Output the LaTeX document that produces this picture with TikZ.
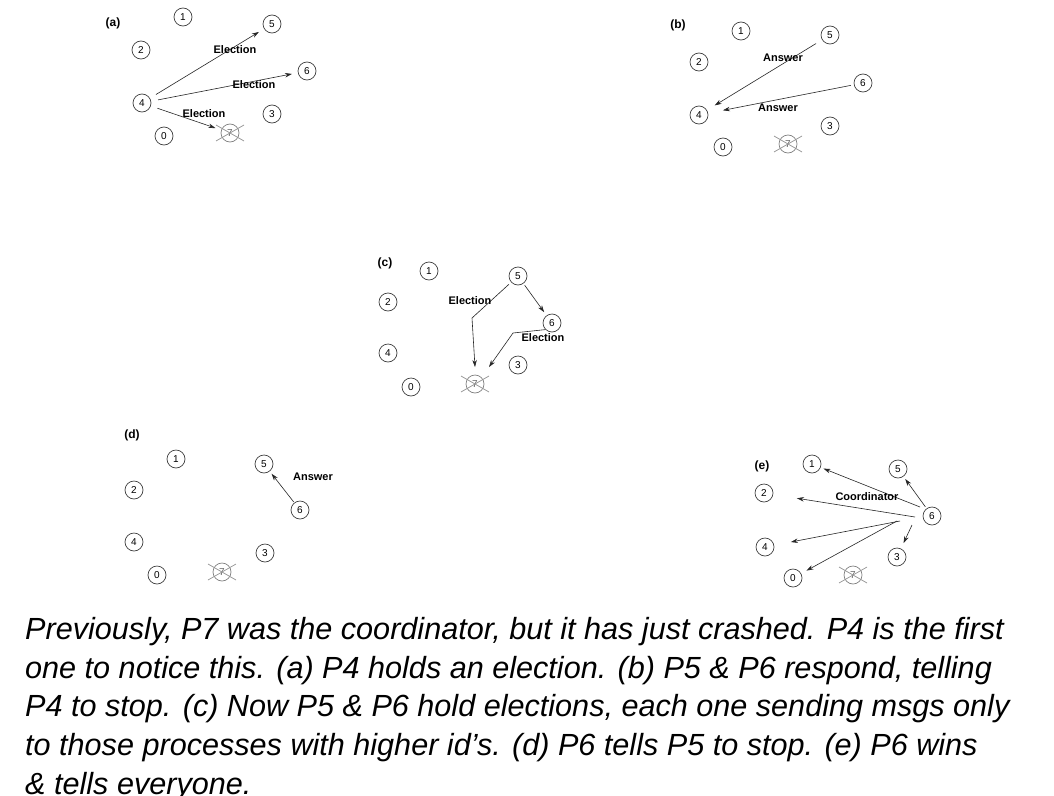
\documentclass[tikz,border=0pt]{standalone}
\usepackage{fontspec}
\setmainfont{Liberation Sans}
\usetikzlibrary{arrows.meta}
\newcommand\xoutnode[1]{\draw[gray!85,line width=0.7pt] ([shift={(-14,-8)}]#1.center) -- ([shift={(14,8)}]#1.center) ([shift={(-14,8)}]#1.center) -- ([shift={(14,-8)}]#1.center);}
\begin{document}
\begin{tikzpicture}[x=1pt,y=-1pt,
 proc/.style={circle,draw=black!75,line width=0.7pt,minimum size=18pt,inner sep=0pt,font=\fontsize{10}{10}\selectfont},
 dead/.style={proc,draw=gray,text=black!60},
 lbl/.style={font=\bfseries\fontsize{11}{11}\selectfont,inner sep=0pt},
 msg/.style={draw=black!85,line width=0.6pt,-{Stealth[length=7pt,width=4.5pt]}},
 panel/.style={font=\bfseries\fontsize{12}{12}\selectfont,inner sep=0pt}]
\useasboundingbox (0,0) rectangle (1054,795);
\fill[white] (0,0) rectangle (1054,795);
% ---------- (a)
\node[panel] (pa) at (113,23) {(a)};
\node[proc] (a1) at (183,17) {1};
\node[proc] (a5) at (272,24) {5};
\node[proc] (a2) at (141,50) {2};
\node[proc] (a6) at (307,71) {6};
\node[proc] (a4) at (142,103) {4};
\node[proc] (a3) at (272,114) {3};
\node[proc] (a0) at (164,136) {0};
\node[dead] (a7) at (230,133) {7};
\xoutnode{a7}
\draw[msg,shorten <=7pt,shorten >=6pt] (a4) -- (a5);
\draw[msg,shorten <=7pt,shorten >=6pt] (a4) -- (a6);
\draw[msg,shorten <=7pt,shorten >=6pt] (a4) -- (a7);
\node[lbl] (la1) at (235,50) {Election};
\node[lbl] (la2) at (254,85) {Election};
\node[lbl] (la3) at (204,114) {Election};
% ---------- (b)
\node[panel] (pb) at (678,25) {(b)};
\node[proc] (b1) at (741,31) {1};
\node[proc] (b5) at (830,35) {5};
\node[proc] (b2) at (699,62) {2};
\node[proc] (b6) at (863,83) {6};
\node[proc] (b4) at (699,115) {4};
\node[proc] (b3) at (830,126) {3};
\node[proc] (b0) at (723,147) {0};
\node[dead] (b7) at (788,144) {7};
\xoutnode{b7}
\draw[msg,shorten <=7pt,shorten >=9pt] (b5) -- (b4);
\draw[msg,shorten <=3pt,shorten >=15pt] (b6) -- (b4);
\node[lbl] (lb1) at (783,58) {Answer};
\node[lbl] (lb2) at (778,108) {Answer};
% ---------- (c)
\node[panel] (pc) at (385,263) {(c)};
\node[proc] (c1) at (429,271) {1};
\node[proc] (c5) at (518,276) {5};
\node[proc] (c2) at (388,302) {2};
\node[proc] (c6) at (552,323) {6};
\node[proc] (c4) at (388,353) {4};
\node[proc] (c3) at (518,365) {3};
\node[proc] (c0) at (411,387) {0};
\node[dead] (c7) at (475,384) {7};
\xoutnode{c7}
\coordinate (cb1) at (472,318);
\coordinate (cb2) at (513,333);
\draw[msg,shorten <=3pt] (c5) -- (cb1) -- ([shift={(0,-17)}]c7.center);
\draw[msg] (c6.south west) -- (cb2) -- ([shift={(14,-17)}]c7.center);
\draw[msg,shorten <=2pt,shorten >=4pt] (c5) -- (c6);
\node[lbl] (lc1) at (470,301) {Election};
\node[lbl] (lc2) at (543,338) {Election};
% ---------- (d)
\node[panel] (pd) at (132,435) {(d)};
\node[proc] (d1) at (176,459) {1};
\node[proc] (d5) at (264,464) {5};
\node[proc] (d2) at (134,490) {2};
\node[proc] (d6) at (300,510) {6};
\node[proc] (d4) at (134,542) {4};
\node[proc] (d3) at (265,553) {3};
\node[proc] (d0) at (157,575) {0};
\node[dead] (d7) at (222,572) {7};
\xoutnode{d7}
\draw[msg,shorten <=1pt,shorten >=3pt] (d6) -- (d5);
\node[lbl] (ld1) at (313,477) {Answer};
% ---------- (e)
\node[panel] (pe) at (762,466) {(e)};
\node[proc] (e1) at (812,464) {1};
\node[proc] (e5) at (898,469) {5};
\node[proc] (e2) at (764,493) {2};
\node[proc] (e6) at (932,516) {6};
\node[proc] (e4) at (765,547) {4};
\node[proc] (e3) at (897,557) {3};
\node[proc] (e0) at (793,578) {0};
\node[dead] (e7) at (853,575) {7};
\xoutnode{e7}
\coordinate (es1) at (920,507);
\coordinate (es2) at (915,517);
\coordinate (es3) at (900,521);
\coordinate (es4) at (897,521);
\coordinate (es5) at (912,525);
\draw[msg,shorten <=2pt,shorten >=3pt] (e6) -- (e5);
\draw[msg,shorten >=3pt] (es1) -- (e1);
\draw[msg,shorten >=24pt] (es2) -- (e2);
\draw[msg,shorten >=17pt] (es3) -- (e4);
\draw[msg,shorten >=6pt] (es4) -- (e0);
\draw[msg,shorten >=6pt] (es5) -- (e3);
\node[lbl] (le1) at (867,497) {Coordinator};
% ---------- caption
\node[anchor=north west,align=left,inner sep=0pt,font=\itshape\fontsize{30.6}{38.7}\selectfont] (cap) at (25,617)
{Previously, P7 was the coordinator, but it has just crashed. P4 is the first\\
one to notice this. (a) P4 holds an election. (b) P5 \& P6 respond, telling\\
P4 to stop. (c) Now P5 \& P6 hold elections, each one sending msgs only\\
to those processes with higher id’s. (d) P6 tells P5 to stop. (e) P6 wins\\
\& tells everyone.};
\end{tikzpicture}
\end{document}
